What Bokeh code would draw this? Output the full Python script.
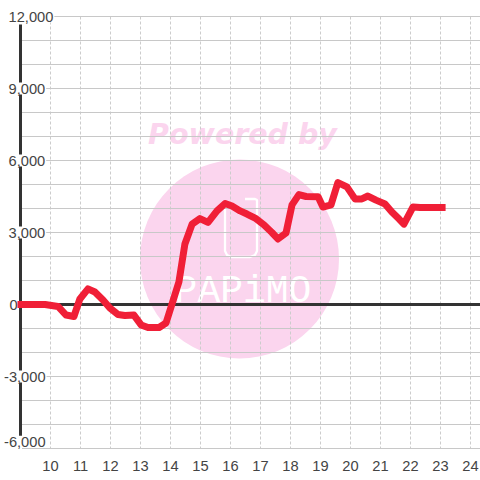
from bokeh.plotting import figure
from bokeh.models import FixedTicker, Range1d
from bokeh.core.properties import value
from bokeh.embed import file_html
from bokeh.resources import INLINE

hours = [8.90, 9.82, 10.25, 10.52, 10.78, 10.98, 11.25, 11.48, 11.75, 11.98, 12.25, 12.48, 12.78,
         13.02, 13.25, 13.62, 13.85, 14.05, 14.28, 14.48, 14.72, 14.98, 15.25, 15.55, 15.82, 16.05,
         16.32, 16.55, 16.82, 17.12, 17.38, 17.58, 17.85, 18.05, 18.28, 18.52, 18.92, 19.08, 19.35,
         19.58, 19.88, 20.15, 20.38, 20.58, 20.85, 21.15, 21.38, 21.62, 21.78, 22.08, 22.32, 23.17]
balance = [0, 0, -80, -440, -500, 230, 650, 520, 190, -150, -420, -460, -440,
           -850, -960, -960, -770, 20, 940, 2520, 3350, 3580, 3420, 3900, 4210, 4100,
           3900, 3770, 3600, 3310, 3000, 2730, 2980, 4150, 4580, 4500, 4490, 4060, 4150,
           5080, 4900, 4400, 4400, 4520, 4350, 4190, 3850, 3560, 3350, 4060, 4040, 4040]
x_ticks = list(range(10, 25))
y_ticks = [12000, 9000, 6000, 3000, 0, -3000, -6000]
y_labels = ["12,000", "9,000", "6,000", "3,000", "0", "-3,000", "-6,000"]
y_grid = list(range(-6000, 12001, 1000))

PINK = "#fbd5ee"
INK = "#444444"
FONT = value("Liberation Sans")

X0, X1 = 8.3333, 24.3333
Y0, Y1 = -6083.33, 12666.67
def hx(px):
    return X0 + (px - 0.5) / 30.0
def vy(py):
    return (304.5 - py) / 0.024

p = figure(width=480, height=480, x_range=Range1d(X0, X1), y_range=Range1d(Y0, Y1),
           output_backend="svg", toolbar_location=None, y_axis_type=None,
           min_border_left=0, min_border_right=0, min_border_top=0, min_border_bottom=30,
           outline_line_color=None, background_fill_color="white")
p.grid.visible = False
ax = p.xaxis[0]
ax.ticker = FixedTicker(ticks=x_ticks)
ax.axis_line_color = None
ax.major_tick_line_color = None
ax.minor_tick_line_color = None
ax.major_label_text_font = "Liberation Sans"
ax.major_label_text_font_size = "14.67px"
ax.major_label_text_color = INK
ax.major_label_standoff = 4

# watermark
p.scatter([hx(239.5)], [vy(259)], size=199, color=PINK, line_color=None, level="image")
p.text([hx(242.5)], [vy(134)], text=["Powered by"], text_font=value("DejaVu Sans"),
       text_font_style="bold italic", text_font_size="28.5px", text_color=PINK,
       text_align="center", text_baseline="alphabetic", level="image")
p.line([hx(v) for v in (225, 225, 227, 231, 250, 255, 257, 257, 255, 245)],
       [vy(v) for v in (205, 251, 255, 257, 257, 255, 251, 200, 199, 199)],
       line_color="white", line_width=2.3, level="image")
p.text([hx(243)], [vy(291)], text=["PAPiMO"], text_font=value("Liberation Mono"),
       text_font_size="38px", text_color="white", text_align="center",
       text_baseline="alphabetic", level="image")

# grid
p.segment(x0=x_ticks, x1=x_ticks, y0=[12000] * len(x_ticks), y1=[-6000] * len(x_ticks),
          line_color="#cccccc", line_width=1, line_dash="3 2", level="underlay")
p.segment(x0=[9.05] * len(y_grid), x1=[X1] * len(y_grid), y0=y_grid, y1=y_grid,
          line_color="#c8c8c8", line_width=1, level="underlay")

# axes
p.segment(x0=[9.0], x1=[X1], y0=[0], y1=[0], line_color="#333333", line_width=3)
p.segment(x0=[9.0], x1=[9.0], y0=[11667], y1=[-5500], line_color="#333333", line_width=3)

# y labels, white backed
offs = [-17.5 if t < 0 else (-12 if t == 0 else -13) for t in y_ticks]
yoff = [6.7 if t == -6000 else 0 for t in y_ticks]
p.text(x=[9.0] * len(y_ticks), y=y_ticks, text=y_labels, x_offset=offs,
       y_offset=[-y for y in yoff], text_font=FONT, text_font_size="14.67px", text_color=INK,
       text_align="left", text_baseline="middle", background_fill_color="white", padding=1)

p.line(hours, balance, line_color="#f01f37", line_width=7, line_join="round", line_cap="butt")

open("out.html", "w").write(file_html(p, INLINE))
